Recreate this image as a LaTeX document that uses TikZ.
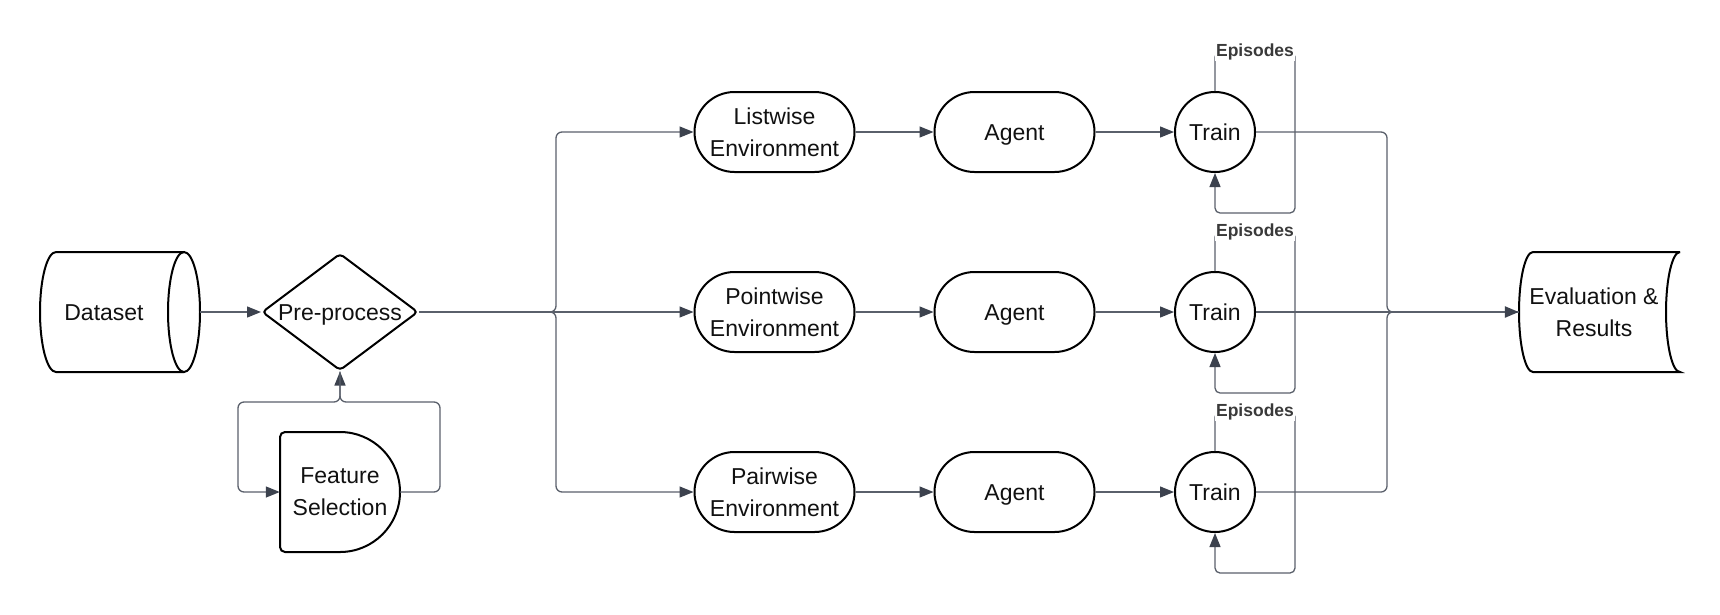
\documentclass[tikz,border=0pt]{standalone}
\usepackage{fontspec}
\setmainfont{Liberation Sans}
\usetikzlibrary{arrows.meta,shapes.geometric,shapes.misc}
\definecolor{linec}{HTML}{5A606B}
\definecolor{arrowc}{HTML}{3C424E}
\definecolor{ink}{HTML}{111111}
\definecolor{epc}{HTML}{3A3A3A}
\tikzset{
  outl/.style={draw=black, line width=2pt},
  txt/.style={text=ink, font=\fontsize{23}{32}\selectfont, align=center, inner sep=0pt},
  oneline/.style={text height=16.5pt, text depth=0pt},
  box/.style={txt, outl},
  stad/.style={box, rounded rectangle, minimum width=160pt, minimum height=80pt},
  trainc/.style={box, oneline, circle, minimum size=80pt},
  conn/.style={draw=linec, line width=1.3pt, rounded corners=6pt},
  arr/.style={conn, -{Triangle[length=14pt,width=11pt,color=arrowc]}},
  eplabel/.style={font=\bfseries\fontsize{17.5}{20}\selectfont, text=epc, fill=white, inner sep=1pt},
}
\begin{document}
\begin{tikzpicture}[x=1pt,y=-1pt]
\useasboundingbox (0,0) rectangle (1720,614);

% Dataset (horizontal cylinder)
\draw[outl] (56,252) -- (184,252)
   (56,252) arc[start angle=270, end angle=90, x radius=16, y radius=60] -- (184,372);
\draw[outl] (184,312) ellipse [x radius=16, y radius=60];
\node[txt, oneline, minimum width=192pt, minimum height=120pt] (ds) at (104,312) {Dataset};

% Pre-process
\node[box, oneline, diamond, aspect=1.333, minimum width=156pt, minimum height=117pt, rounded corners=4pt] (pre) at (340,312) {Pre-process};

% Feature Selection (delay shape)
\draw[outl, rounded corners=5pt] (340,432) -- (280,432) -- (280,552) -- (340,552);
\draw[outl] (340,552) arc[start angle=90, end angle=-90, radius=60];
\node[txt, minimum width=120pt, minimum height=120pt] (fs) at (340,492) {Feature\\Selection};

% Environments
\node[stad] (list) at (774.5,132) {Listwise\\Environment};
\node[stad] (point) at (774.5,312) {Pointwise\\Environment};
\node[stad] (pair) at (774.5,492) {Pairwise\\Environment};

% Agents
\node[stad, oneline] (ag1) at (1014.5,132) {Agent};
\node[stad, oneline] (ag2) at (1014.5,312) {Agent};
\node[stad, oneline] (ag3) at (1014.5,492) {Agent};

% Train
\node[trainc] (t1) at (1215,132) {Train};
\node[trainc] (t2) at (1215,312) {Train};
\node[trainc] (t3) at (1215,492) {Train};

% Evaluation & Results (stored data)
\draw[outl] (1680,252) -- (1533,252)
   arc[start angle=270, end angle=90, x radius=14, y radius=60] -- (1680,372)
   arc[start angle=90, end angle=270, x radius=14, y radius=60];
\node[txt, minimum width=150pt, minimum height=120pt] (ev) at (1594,312) {Evaluation \&\\Results};

% Connectors: left part
\draw[arr] (ds.east) -- (pre.west);
\draw[arr] (fs.east) -- (440,492) -- (440,402) -- (340,402) -- (pre.south);
\draw[arr] (pre.south) -- (340,402) -- (238,402) -- (238,492) -- (fs.west);

\coordinate (split) at (556,312);
\draw[arr] (pre.east) -- (split) |- (list.west);
\draw[arr] (pre.east) -- (point.west);
\draw[arr] (pre.east) -- (split) |- (pair.west);

% Rows
\draw[arr] (list.east) -- (ag1.west);
\draw[arr] (point.east) -- (ag2.west);
\draw[arr] (pair.east) -- (ag3.west);
\draw[arr] (ag1.east) -- (t1.west);
\draw[arr] (ag2.east) -- (t2.west);
\draw[arr] (ag3.east) -- (t3.west);

% Episode loops
\draw[arr, rounded corners=5pt] (t1.north) -- (1215,52) -- (1295,52) -- (1295,213) -- (1215,213) -- (t1.south);
\draw[arr, rounded corners=5pt] (t2.north) -- (1215,232) -- (1295,232) -- (1295,393) -- (1215,393) -- (t2.south);
\draw[arr, rounded corners=5pt] (t3.north) -- (1215,412) -- (1295,412) -- (1295,573) -- (1215,573) -- (t3.south);
\node[eplabel] (ep1) at (1255,52) {Episodes};
\node[eplabel] (ep2) at (1255,232) {Episodes};
\node[eplabel] (ep3) at (1255,412) {Episodes};

% Merge into evaluation
\coordinate (merge) at (1387,312);
\draw[conn] (t1.east) -| (merge) -- (ev.west);
\draw[conn] (t3.east) -| (merge) -- (ev.west);
\draw[conn] (t2.east) -- (merge);
\draw[arr, line width=2.4pt] (merge) -- (ev.west);
\end{tikzpicture}
\end{document}
